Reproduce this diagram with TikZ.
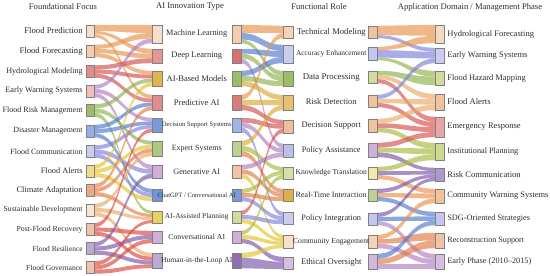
\documentclass[tikz,border=0pt]{standalone}
\usepackage{fontspec}
\setmainfont{Liberation Serif}
\usetikzlibrary{positioning,calc,backgrounds}
\definecolor{ink}{HTML}{2B2B2B}
\definecolor{pOrange}{HTML}{E8914A}
\definecolor{pRed}{HTML}{D24E4E}
\definecolor{pViolet}{HTML}{B07CC0}
\definecolor{pGreen}{HTML}{8DB04A}
\definecolor{pBlue}{HTML}{4F78D0}
\definecolor{pPeri}{HTML}{7C80D8}
\definecolor{pYellow}{HTML}{E2C22A}
\definecolor{pOrRed}{HTML}{E07A40}
\definecolor{pPeach}{HTML}{EBA865}
\definecolor{pCrim}{HTML}{D8453E}
\definecolor{pPurple}{HTML}{7A55A8}
\definecolor{pOlive}{HTML}{A8B83A}
\definecolor{pGold}{HTML}{D8A830}
\tikzset{
  bar/.style={draw=black!50,fill=#1,line width=0.4pt,inner sep=0pt,minimum width=9pt},
  lbl/.style={font=\fontsize{#1}{#1}\selectfont,text=ink,inner sep=0pt},
  lbl/.default=8.5,
  head/.style={font=\fontsize{8.6}{9}\selectfont,text=ink},
  band/.style={fill=#1,fill opacity=.65},
}
% band from a slice of the right side of #1 to a slice of the left side of #4
\newcommand{\flowband}[7]{%
  \fill[band=#7] ($(#1.north east)!{#2}!(#1.south east)$)
    .. controls +(\flowbend,0) and +(-\flowbend,0) .. ($(#4.north west)!{#5}!(#4.south west)$)
    -- ($(#4.north west)!{#6}!(#4.south west)$)
    .. controls +(-\flowbend,0) and +(\flowbend,0) .. ($(#1.north east)!{#3}!(#1.south east)$) -- cycle;}
\def\flowbend{28}
\begin{document}
\begin{tikzpicture}[x=1pt,y=-1pt]
  \useasboundingbox (0,0) rectangle (550,276);
  % headers
  \node[head] (h1) at (63,7) {Foundational Focus};
  \node[head] (h2) at (190,7) {AI Innovation Type};
  \node[head] (h3) at (319,7) {Functional Role};
  \node[head] (h4) at (470,7) {Application Domain / Management Phase};
  % foundational focus
  \node[bar=pOrange!30,minimum width=8pt,minimum height=12pt] (fp) at (90,31) {};
  \node[bar=pOrange!45,minimum width=8pt,minimum height=12pt] (ff) at (90,51) {};
  \node[bar=pRed!65,minimum width=8pt,minimum height=12pt] (hm) at (90,71.5) {};
  \node[bar=pCrim!35,minimum width=8pt,minimum height=12pt] (ew) at (90,91) {};
  \node[bar=pGreen!85,minimum width=8pt,minimum height=12pt] (frm) at (90,110.5) {};
  \node[bar=pBlue!60,minimum width=8pt,minimum height=12pt] (dm) at (90,131) {};
  \node[bar=pPeri!40,minimum width=8pt,minimum height=12pt] (fc) at (90,151.5) {};
  \node[bar=pYellow!55,minimum width=8pt,minimum height=12pt] (fa) at (90,171) {};
  \node[bar=pOrRed!65,minimum width=8pt,minimum height=12pt] (ca) at (90,190) {};
  \node[bar=pPeach!30,minimum width=8pt,minimum height=12pt] (sd) at (90,210) {};
  \node[bar=pOrRed!45,minimum width=8pt,minimum height=12pt] (pfr) at (90,229.5) {};
  \node[bar=pPurple!50,minimum width=8pt,minimum height=12pt] (fr) at (90,248.5) {};
  \node[bar=pOrRed!45,minimum width=8pt,minimum height=12pt] (fg) at (90,267.5) {};
  \node[lbl=8.7,left=3pt of fp] (fp-t) {Flood Prediction};
  \node[lbl=8.7,left=3pt of ff] (ff-t) {Flood Forecasting};
  \node[lbl=8.1,left=3pt of hm] (hm-t) {Hydrological Modeling};
  \node[lbl=8.2,left=3pt of ew] (ew-t) {Early Warning Systems};
  \node[lbl=8.1,left=3pt of frm] (frm-t) {Flood Risk Management};
  \node[lbl=7.9,left=3pt of dm] (dm-t) {Disaster Management};
  \node[lbl=8,left=3pt of fc] (fc-t) {Flood Communication};
  \node[lbl=8.3,left=3pt of fa] (fa-t) {Flood Alerts};
  \node[lbl=8.4,left=3pt of ca] (ca-t) {Climate Adaptation};
  \node[lbl=7.7,left=3pt of sd] (sd-t) {Sustainable Development};
  \node[lbl=7.8,left=3pt of pfr] (pfr-t) {Post-Flood Recovery};
  \node[lbl=7.4,left=3pt of fr] (fr-t) {Flood Resilience};
  \node[lbl=7.6,left=3pt of fg] (fg-t) {Flood Governance};
  % AI innovation type, incoming side
  \node[bar=pOrange!30,minimum width=10pt,minimum height=18pt] (ml) at (157,34) {};
  \node[bar=pRed!60,minimum width=10pt,minimum height=14pt] (dl) at (157,56) {};
  \node[bar=pGold!85,minimum width=10pt,minimum height=15pt] (aib) at (157,78.5) {};
  \node[bar=pRed!65,minimum width=10pt,minimum height=15pt] (pai) at (157,102.5) {};
  \node[bar=pBlue!75,minimum width=10pt,minimum height=14pt] (dss) at (157,125) {};
  \node[bar=pGreen!70,minimum width=10pt,minimum height=15pt] (es) at (157,148.5) {};
  \node[bar=pViolet!60,minimum width=10pt,minimum height=13pt] (gai) at (157,171.5) {};
  \node[bar=pBlue!80,minimum width=10pt,minimum height=12pt] (chat) at (157,195) {};
  \node[bar=pYellow!75,minimum width=10pt,minimum height=12pt] (aap) at (157,217) {};
  \node[bar=pViolet!60,minimum width=10pt,minimum height=12pt] (cai) at (157,237) {};
  \node[bar=pPurple!50,minimum width=10pt,minimum height=15pt] (hil) at (157,260.5) {};
  % AI innovation type, outgoing side
  \node[bar=pOrange!45,minimum height=18pt] (ml-o) at (236.5,34) {};
  \node[bar=pRed!80,minimum height=14pt] (dl-o) at (236.5,56) {};
  \node[bar=pGreen!85,minimum height=15pt] (aib-o) at (236.5,78.5) {};
  \node[bar=pRed!75,minimum height=15pt] (pai-o) at (236.5,102.5) {};
  \node[bar=pBlue!55,minimum height=14pt] (dss-o) at (236.5,125) {};
  \node[bar=pGreen!60,minimum height=15pt] (es-o) at (236.5,148.5) {};
  \node[bar=pOrRed!45,minimum height=13pt] (gai-o) at (236.5,171.5) {};
  \node[bar=pBlue!75,minimum height=12pt] (chat-o) at (236.5,195) {};
  \node[bar=pOlive!50,minimum height=12pt] (aap-o) at (236.5,217) {};
  \node[bar=pViolet!60,minimum height=12pt] (cai-o) at (236.5,237) {};
  \node[bar=pPurple!85,minimum height=15pt] (hil-o) at (236.5,260.5) {};
  \node[lbl=8.3] (ml-t) at ($(ml)!.5!(ml-o)$) {Machine Learning};
  \node[lbl] (dl-t) at ($(dl)!.5!(dl-o)$) {Deep Learning};
  \node[lbl] (aib-t) at ($(aib)!.5!(aib-o)$) {AI-Based Models};
  \node[lbl] (pai-t) at ($(pai)!.5!(pai-o)$) {Predictive AI};
  \node[lbl=6.6] (dss-t) at ($(dss)!.5!(dss-o)$) {Decision Support Systems};
  \node[lbl=8] (es-t) at ($(es)!.5!(es-o)$) {Expert Systems};
  \node[lbl=8.2] (gai-t) at ($(gai)!.5!(gai-o)$) {Generative AI};
  \node[lbl=6.55] (chat-t) at ($(chat)!.5!(chat-o)$) {ChatGPT / Conversational AI};
  \node[lbl=7.4] (aap-t) at ($(aap)!.5!(aap-o)$) {AI-Assisted Planning};
  \node[lbl=7.7] (cai-t) at ($(cai)!.5!(cai-o)$) {Conversational AI};
  \node[lbl=7.6] (hil-t) at ($(hil)!.5!(hil-o)$) {Human-in-the-Loop AI};
  % functional role, incoming side
  \node[bar=pOrange!40,minimum width=10pt,minimum height=12pt] (tm) at (288,32) {};
  \node[bar=pPeri!40,minimum width=10pt,minimum height=18pt] (ae) at (288,54) {};
  \node[bar=pGreen!85,minimum width=10pt,minimum height=15pt] (dp) at (288,78.5) {};
  \node[bar=pGold!70,minimum width=10pt,minimum height=15pt] (rd) at (288,102.5) {};
  \node[bar=pOrRed!50,minimum width=10pt,minimum height=13pt] (ds) at (288,126.5) {};
  \node[bar=pPeri!50,minimum width=10pt,minimum height=13pt] (pas) at (288,150.5) {};
  \node[bar=pOlive!45,minimum width=10pt,minimum height=12pt] (kt) at (288,173) {};
  \node[bar=pGold!90,minimum width=10pt,minimum height=12pt] (rt) at (288,195) {};
  \node[bar=pPeri!40,minimum width=10pt,minimum height=12pt] (pint) at (288,218) {};
  \node[bar=pPeach!35,minimum width=10pt,minimum height=13pt] (ce) at (288,241.5) {};
  \node[bar=pViolet!50,minimum width=10pt,minimum height=12pt] (eo) at (288,263) {};
  % functional role, outgoing side
  \node[bar=pOrange!55,minimum height=12pt] (tm-o) at (372.5,32) {};
  \node[bar=pPeri!45,minimum height=13pt] (ae-o) at (372.5,53.5) {};
  \node[bar=pOlive!50,minimum height=12pt] (dp-o) at (372.5,77) {};
  \node[bar=pOrange!55,minimum height=12pt] (rd-o) at (372.5,101) {};
  \node[bar=pOrange!55,minimum height=13pt] (ds-o) at (372.5,125.5) {};
  \node[bar=pViolet!60,minimum height=14pt] (pas-o) at (372.5,150) {};
  \node[bar=pYellow!40,minimum height=12pt] (kt-o) at (372.5,173) {};
  \node[bar=pGreen!60,minimum height=12pt] (rt-o) at (372.5,195) {};
  \node[bar=pPeri!45,minimum height=12pt] (pint-o) at (372.5,219) {};
  \node[bar=pPeach!50,minimum height=13pt] (ce-o) at (372.5,241.5) {};
  \node[bar=pViolet!55,minimum height=15pt] (eo-o) at (372.5,261.5) {};
  \node[lbl=8.6,xshift=1pt] (tm-t) at ($(tm)!.5!(tm-o)$) {Technical Modeling};
  \node[lbl=7.4,xshift=1pt] (ae-t) at ($(ae)!.5!(ae-o)$) {Accuracy Enhancement};
  \node[lbl=8.8,xshift=1pt] (dp-t) at ($(dp)!.5!(dp-o)$) {Data Processing};
  \node[lbl,xshift=1pt] (rd-t) at ($(rd)!.5!(rd-o)$) {Risk Detection};
  \node[lbl,xshift=1pt] (ds-t) at ($(ds)!.5!(ds-o)$) {Decision Support};
  \node[lbl=8.3,xshift=1pt] (pas-t) at ($(pas)!.5!(pas-o)$) {Policy Assistance};
  \node[lbl=7.6,xshift=1pt] (kt-t) at ($(kt)!.5!(kt-o)$) {Knowledge Translation};
  \node[lbl=8.05,xshift=1pt] (rt-t) at ($(rt)!.5!(rt-o)$) {Real-Time Interaction};
  \node[lbl=8.3,xshift=1pt] (pint-t) at ($(pint)!.5!(pint-o)$) {Policy Integration};
  \node[lbl=7.6,xshift=1pt] (ce-t) at ($(ce)!.5!(ce-o)$) {Community Engagement};
  \node[lbl=8.6,xshift=1pt] (eo-t) at ($(eo)!.5!(eo-o)$) {Ethical Oversight};
  % application domain / management phase
  \node[bar=pOrange!35,minimum height=18pt] (hf) at (439.5,34) {};
  \node[bar=pPeri!40,minimum height=15pt] (ews) at (439.5,55.5) {};
  \node[bar=pOlive!50,minimum height=14pt] (fhm) at (439.5,78) {};
  \node[bar=pOrange!55,minimum height=16pt] (fal) at (439.5,102) {};
  \node[bar=pRed!50,minimum height=20pt] (er) at (439.5,127) {};
  \node[bar=pOlive!55,minimum height=17pt] (ip) at (439.5,151.5) {};
  \node[bar=pPurple!60,minimum height=13pt] (rc) at (439.5,174.5) {};
  \node[bar=pOrange!55,minimum height=14pt] (cws) at (439.5,196) {};
  \node[bar=pPeri!45,minimum height=13pt] (sdg) at (439.5,218.5) {};
  \node[bar=pOrRed!45,minimum height=15pt] (rs) at (439.5,240.5) {};
  \node[bar=pViolet!50,minimum height=15pt] (ep) at (439.5,261.5) {};
  \node[lbl,right=3pt of hf] (hf-t) {Hydrological Forecasting};
  \node[lbl,right=3pt of ews] (ews-t) {Early Warning Systems};
  \node[lbl=8.4,right=3pt of fhm] (fhm-t) {Flood Hazard Mapping};
  \node[lbl=8.6,right=3pt of fal] (fal-t) {Flood Alerts};
  \node[lbl,right=3pt of er] (er-t) {Emergency Response};
  \node[lbl=8.2,right=3pt of ip] (ip-t) {Institutional Planning};
  \node[lbl=8.6,right=3pt of rc] (rc-t) {Risk Communication};
  \node[lbl=8.4,right=3pt of cws] (cws-t) {Community Warning Systems};
  \node[lbl=8.25,right=3pt of sdg] (sdg-t) {SDG-Oriented Strategies};
  \node[lbl=8.1,right=3pt of rs] (rs-t) {Reconstruction Support};
  \node[lbl=8.25,right=3pt of ep] (ep-t) {Early Phase (2010--2015)};
  \begin{scope}[on background layer]
    % focus -> innovation type
    \flowband{fp}{0}{.5}{ml}{0}{.45}{pOrange}
    \flowband{fp}{.5}{.75}{dl}{0}{1/3}{pOrange}
    \flowband{fp}{.75}{1}{pai}{0}{.25}{pOrange}
    \flowband{ff}{0}{1/3}{ml}{.45}{.75}{pOrange}
    \flowband{ff}{1/3}{2/3}{dl}{1/3}{2/3}{pOrange}
    \flowband{ff}{2/3}{1}{aib}{0}{.25}{pOrange}
    \flowband{hm}{0}{1/3}{dl}{2/3}{1}{pRed}
    \flowband{hm}{1/3}{2/3}{aib}{.25}{.5}{pRed}
    \flowband{hm}{2/3}{1}{pai}{.25}{.5}{pRed}
    \flowband{ew}{0}{1/3}{ml}{.75}{1}{pViolet}
    \flowband{ew}{1/3}{2/3}{dss}{0}{.25}{pViolet}
    \flowband{ew}{2/3}{1}{gai}{0}{1/3}{pViolet}
    \flowband{frm}{0}{1/3}{aib}{.5}{.75}{pGreen}
    \flowband{frm}{1/3}{2/3}{es}{0}{.25}{pGreen}
    \flowband{frm}{2/3}{1}{aap}{0}{.25}{pGreen}
    \flowband{dm}{0}{1/3}{pai}{.5}{.75}{pBlue}
    \flowband{dm}{1/3}{2/3}{dss}{.25}{.5}{pBlue}
    \flowband{dm}{2/3}{1}{chat}{0}{1/3}{pBlue}
    \flowband{fc}{0}{1/3}{dss}{.5}{.75}{pPeri}
    \flowband{fc}{1/3}{2/3}{gai}{1/3}{2/3}{pPeri}
    \flowband{fc}{2/3}{1}{chat}{1/3}{2/3}{pPeri}
    \flowband{fa}{0}{1/3}{aib}{.75}{1}{pYellow}
    \flowband{fa}{1/3}{2/3}{es}{.25}{.5}{pYellow}
    \flowband{fa}{2/3}{1}{chat}{2/3}{1}{pYellow}
    \flowband{ca}{0}{1/3}{pai}{.75}{1}{pOrRed}
    \flowband{ca}{1/3}{2/3}{es}{.5}{.75}{pOrRed}
    \flowband{ca}{2/3}{1}{aap}{.25}{.5}{pOrRed}
    \flowband{sd}{0}{1/3}{es}{.75}{1}{pPeach}
    \flowband{sd}{1/3}{2/3}{aap}{.5}{.75}{pPeach}
    \flowband{sd}{2/3}{1}{hil}{0}{.25}{pPeach}
    \flowband{pfr}{0}{1/3}{dss}{.75}{1}{pCrim}
    \flowband{pfr}{1/3}{2/3}{cai}{0}{1/3}{pCrim}
    \flowband{pfr}{2/3}{1}{hil}{.25}{.5}{pCrim}
    \flowband{fr}{0}{1/3}{gai}{2/3}{1}{pPurple}
    \flowband{fr}{1/3}{2/3}{cai}{1/3}{2/3}{pPurple}
    \flowband{fr}{2/3}{1}{hil}{.5}{.75}{pPurple}
    \flowband{fg}{0}{1/3}{aap}{.75}{1}{pCrim}
    \flowband{fg}{1/3}{2/3}{cai}{2/3}{1}{pCrim}
    \flowband{fg}{2/3}{1}{hil}{.75}{1}{pCrim}
    % innovation type -> functional role
    \def\flowbend{20}
    \flowband{ml-o}{0}{.45}{tm}{0}{.6}{pOrange}
    \flowband{ml-o}{.45}{.8}{ae}{0}{1/3}{pBlue}
    \flowband{ml-o}{.8}{1}{dp}{0}{1/3}{pGreen}
    \flowband{dl-o}{0}{1/3}{ae}{1/3}{2/3}{pBlue}
    \flowband{dl-o}{1/3}{2/3}{dp}{1/3}{2/3}{pGreen}
    \flowband{dl-o}{2/3}{1}{pas}{0}{1/3}{pViolet}
    \flowband{aib-o}{0}{1/3}{ae}{2/3}{1}{pBlue}
    \flowband{aib-o}{1/3}{2/3}{dp}{2/3}{1}{pGreen}
    \flowband{aib-o}{2/3}{1}{rd}{0}{1/3}{pGold}
    \flowband{pai-o}{0}{1/3}{tm}{.6}{1}{pOrange}
    \flowband{pai-o}{1/3}{2/3}{rd}{1/3}{2/3}{pGold}
    \flowband{pai-o}{2/3}{1}{ds}{0}{1/3}{pRed}
    \flowband{dss-o}{0}{1/3}{ds}{1/3}{2/3}{pRed}
    \flowband{dss-o}{1/3}{2/3}{pas}{1/3}{2/3}{pViolet}
    \flowband{dss-o}{2/3}{1}{pint}{0}{1/3}{pPeri}
    \flowband{es-o}{0}{1/3}{rd}{2/3}{1}{pGold}
    \flowband{es-o}{1/3}{2/3}{kt}{0}{1/3}{pOlive}
    \flowband{es-o}{2/3}{1}{rt}{0}{1/3}{pOrRed}
    \flowband{gai-o}{0}{1/3}{pas}{2/3}{1}{pViolet}
    \flowband{gai-o}{1/3}{2/3}{rt}{1/3}{2/3}{pOrRed}
    \flowband{gai-o}{2/3}{1}{ce}{0}{.25}{pYellow}
    \flowband{chat-o}{0}{1/3}{kt}{1/3}{2/3}{pOlive}
    \flowband{chat-o}{1/3}{2/3}{rt}{2/3}{1}{pOrRed}
    \flowband{chat-o}{2/3}{1}{pint}{1/3}{2/3}{pPeri}
    \flowband{aap-o}{0}{1/3}{ds}{2/3}{1}{pRed}
    \flowband{aap-o}{1/3}{2/3}{pint}{2/3}{1}{pPeri}
    \flowband{aap-o}{2/3}{1}{ce}{.25}{.5}{pYellow}
    \flowband{cai-o}{0}{1/3}{kt}{2/3}{1}{pOlive}
    \flowband{cai-o}{1/3}{2/3}{ce}{.5}{.75}{pYellow}
    \flowband{cai-o}{2/3}{1}{eo}{0}{.4}{pPurple}
    \flowband{hil-o}{0}{1/3}{ce}{.75}{1}{pYellow}
    \flowband{hil-o}{1/3}{1}{eo}{.4}{1}{pPurple}
    % functional role -> application domain
    \def\flowbend{28}
    \flowband{tm-o}{0}{.75}{hf}{0}{.6}{pOrange}
    \flowband{tm-o}{.75}{1}{ews}{0}{.25}{pPeri}
    \flowband{ae-o}{0}{.25}{hf}{.6}{1}{pOrange}
    \flowband{ae-o}{.25}{.8}{ews}{.25}{.7}{pPeri}
    \flowband{ae-o}{.8}{1}{fhm}{0}{.4}{pGreen}
    \flowband{dp-o}{0}{1/3}{fhm}{.4}{1}{pGreen}
    \flowband{dp-o}{1/3}{2/3}{fal}{0}{1/3}{pPeach}
    \flowband{dp-o}{2/3}{1}{er}{0}{.25}{pRed}
    \flowband{rd-o}{0}{1/3}{ews}{.7}{1}{pPeri}
    \flowband{rd-o}{1/3}{2/3}{fal}{1/3}{2/3}{pPeach}
    \flowband{rd-o}{2/3}{1}{er}{.25}{.5}{pRed}
    \flowband{ds-o}{0}{1/3}{fal}{2/3}{1}{pPeach}
    \flowband{ds-o}{1/3}{2/3}{er}{.5}{.75}{pRed}
    \flowband{ds-o}{2/3}{1}{ip}{0}{1/3}{pOlive}
    \flowband{pas-o}{0}{1/3}{er}{.75}{1}{pRed}
    \flowband{pas-o}{1/3}{2/3}{ip}{1/3}{2/3}{pOlive}
    \flowband{pas-o}{2/3}{1}{rc}{0}{.25}{pPurple}
    \flowband{kt-o}{0}{1/3}{ip}{2/3}{1}{pOlive}
    \flowband{kt-o}{1/3}{2/3}{rc}{.25}{.5}{pPurple}
    \flowband{kt-o}{2/3}{1}{cws}{0}{1/3}{pOrange}
    \flowband{rt-o}{0}{1/3}{rc}{.5}{.75}{pPurple}
    \flowband{rt-o}{1/3}{2/3}{cws}{1/3}{2/3}{pOrange}
    \flowband{rt-o}{2/3}{1}{sdg}{0}{1/3}{pBlue}
    \flowband{pint-o}{0}{1/3}{rc}{.75}{1}{pPurple}
    \flowband{pint-o}{1/3}{2/3}{sdg}{1/3}{2/3}{pBlue}
    \flowband{pint-o}{2/3}{1}{ep}{0}{1/3}{pViolet}
    \flowband{ce-o}{0}{1/3}{cws}{2/3}{1}{pOrange}
    \flowband{ce-o}{1/3}{2/3}{rs}{0}{.5}{pOrRed}
    \flowband{ce-o}{2/3}{1}{ep}{1/3}{2/3}{pViolet}
    \flowband{eo-o}{0}{1/3}{sdg}{2/3}{1}{pBlue}
    \flowband{eo-o}{1/3}{2/3}{rs}{.5}{1}{pOrRed}
    \flowband{eo-o}{2/3}{1}{ep}{2/3}{1}{pViolet}
  \end{scope}
\end{tikzpicture}
\end{document}
